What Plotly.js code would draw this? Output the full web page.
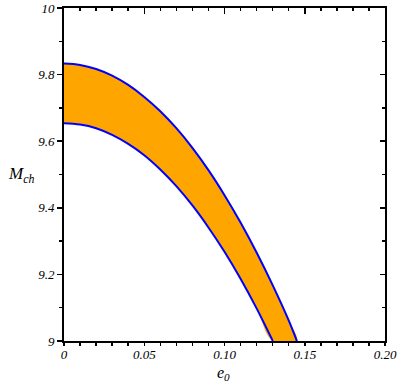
<!DOCTYPE html>
<html>
<head>
<meta charset="utf-8">
<script src="https://cdn.plot.ly/plotly-3.0.1.min.js"></script>
<style>html,body{margin:0;padding:0;background:#fff;}#chart{width:399px;height:387px;}</style>
</head>
<body>
<div id="chart"></div>
<script>
// Data
var eUpper = [0, 0.01, 0.02, 0.03, 0.04, 0.05, 0.06, 0.07, 0.08, 0.09, 0.10, 0.11, 0.12, 0.13, 0.14, 0.1451];
var mUpper = [9.833, 9.829, 9.817, 9.797, 9.769, 9.733, 9.690, 9.639, 9.580, 9.513, 9.438, 9.356, 9.266, 9.168, 9.062, 9.0];
var eLower = [0, 0.01, 0.02, 0.03, 0.04, 0.05, 0.06, 0.07, 0.08, 0.09, 0.10, 0.11, 0.12, 0.1301];
var mLower = [9.654, 9.650, 9.639, 9.619, 9.592, 9.558, 9.515, 9.465, 9.407, 9.341, 9.268, 9.187, 9.098, 9.0];

var xTickVals = [0, 0.05, 0.10, 0.15, 0.20];
var xTickText = ['0', '0.05', '0.10', '0.15', '0.20'];
var yTickVals = [9, 9.2, 9.4, 9.6, 9.8, 10];
var yTickText = ['9', '9.2', '9.4', '9.6', '9.8', '10'];

var bandX = eUpper.concat(eLower.slice().reverse());
var bandY = mUpper.concat(mLower.slice().reverse());

var serif = 'Liberation Serif';
var tickFont = {family: serif, size: 13, color: '#000', style: 'italic'};

var traces = [
  {x: bandX, y: bandY, type: 'scatter', mode: 'lines', fill: 'toself', fillcolor: '#FFA500',
   line: {width: 0, color: '#FFA500', shape: 'spline', smoothing: 1}, hoverinfo: 'skip', showlegend: false},
  {x: eUpper, y: mUpper, type: 'scatter', mode: 'lines', line: {color: '#0000FF', width: 2, shape: 'spline', smoothing: 1}, showlegend: false},
  {x: eLower, y: mLower, type: 'scatter', mode: 'lines', line: {color: '#0000FF', width: 2, shape: 'spline', smoothing: 1}, showlegend: false},
  {x: [0], y: [9], xaxis: 'x2', yaxis: 'y2', type: 'scatter', mode: 'markers', marker: {opacity: 0}, hoverinfo: 'skip', showlegend: false}
];

var layout = {
  width: 399, height: 387,
  margin: {l: 63.5, r: 14, t: 8, b: 46},
  paper_bgcolor: '#fff', plot_bgcolor: '#fff',
  showlegend: false,
  xaxis: {
    range: [0, 0.2], tickvals: xTickVals, ticktext: xTickText, tickfont: tickFont,
    showgrid: false, zeroline: false, showline: true, linecolor: '#000', linewidth: 2,
    ticks: 'outside', ticklen: 3, tickwidth: 1.5, tickcolor: '#000', ticklabelstandoff: -3,
    minor: {dtick: 0.01, tick0: 0, ticks: 'outside', ticklen: 3, tickwidth: 1.5, tickcolor: '#000', showgrid: false}
  },
  xaxis2: {
    range: [0, 0.2], overlaying: 'x', side: 'top', anchor: 'y2', showticklabels: false,
    tickvals: xTickVals, showgrid: false, zeroline: false, showline: true, linecolor: '#000', linewidth: 2,
    ticks: 'inside', ticklen: 6, tickwidth: 1.5, tickcolor: '#000',
    minor: {dtick: 0.01, tick0: 0, ticks: 'inside', ticklen: 3, tickwidth: 1.5, tickcolor: '#000', showgrid: false}
  },
  yaxis: {
    range: [9, 10], tickvals: yTickVals, ticktext: yTickText, tickfont: tickFont,
    showgrid: false, zeroline: false, showline: true, linecolor: '#000', linewidth: 2,
    ticks: 'outside', ticklen: 5, tickwidth: 1.5, tickcolor: '#000',
    minor: {dtick: 0.1, tick0: 9, ticks: 'outside', ticklen: 3, tickwidth: 1.5, tickcolor: '#000', showgrid: false}
  },
  yaxis2: {
    range: [9, 10], overlaying: 'y', side: 'right', anchor: 'x2', showticklabels: false,
    tickvals: yTickVals, showgrid: false, zeroline: false, showline: true, linecolor: '#000', linewidth: 2,
    ticks: 'inside', ticklen: 5, tickwidth: 1.5, tickcolor: '#000',
    minor: {dtick: 0.1, tick0: 9, ticks: 'inside', ticklen: 3, tickwidth: 1.5, tickcolor: '#000', showgrid: false}
  },
  annotations: [
    {text: '<i>e</i><sub><i>0</i></sub>', xref: 'paper', yref: 'paper', x: 0.497, y: -0.066, xanchor: 'center', yanchor: 'top',
     showarrow: false, borderpad: 0, font: {family: serif, size: 16, color: '#000'}},
    {text: '<i>M</i><sub><i>ch</i></sub>', xref: 'paper', yref: 'paper', x: -0.134, y: 0.5, xanchor: 'center', yanchor: 'middle',
     showarrow: false, font: {family: serif, size: 17, color: '#000'}}
  ]
};

Plotly.newPlot('chart', traces, layout, {displayModeBar: false, staticPlot: true});
</script>
</body>
</html>
